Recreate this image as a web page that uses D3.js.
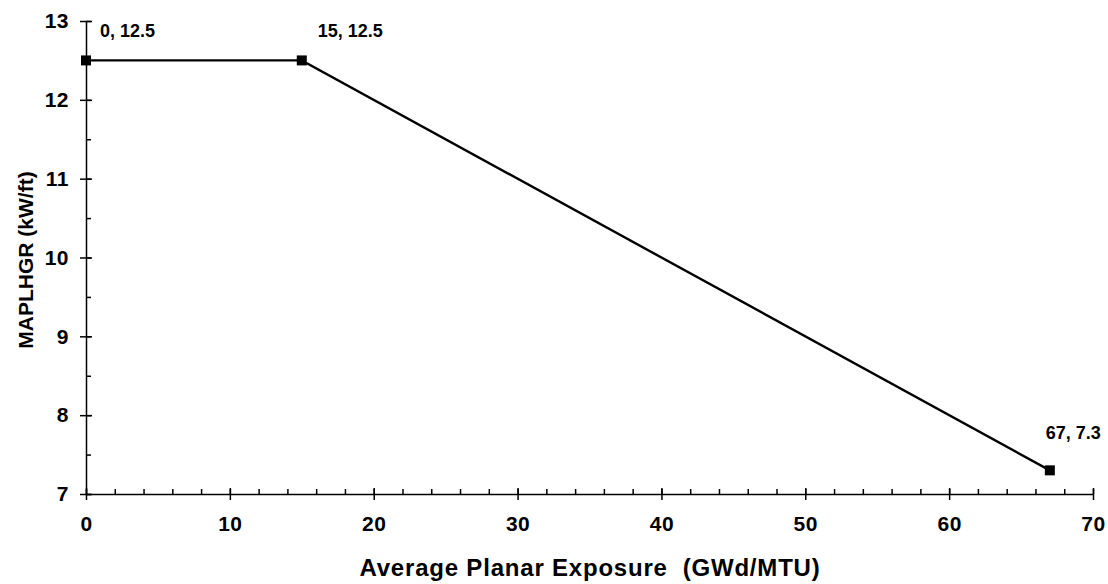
<!DOCTYPE html>
<html>
<head>
<meta charset="utf-8">
<script src="https://cdn.jsdelivr.net/npm/d3@7"></script>
<style>
  body { margin: 0; background: #fff; }
  text { font-family: "Liberation Sans", Arial, sans-serif; font-weight: bold; fill: #000; }
  .axis path, .axis line { stroke: #000; stroke-width: 1.5; }
  .axis text { font-size: 21px; letter-spacing: 0.5px; }
</style>
</head>
<body>
<script>
"use strict";

var width = 1108,
    height = 584;

// data
const exposure = [0, 15, 67];
const maplhgr = [12.5, 12.5, 7.3];
const pointLabels = ["0, 12.5", "15, 12.5", "67, 7.3"];
const xTicks = [0, 10, 20, 30, 40, 50, 60, 70];
const yTicks = [7, 8, 9, 10, 11, 12, 13];
const xMinor = d3.range(0, 70.01, 2);
const yMinor = d3.range(7, 13.01, 0.5);

const plotLeft = 86, plotRight = 1093, plotTop = 21, plotBottom = 494;

let svg = d3.select("body")
    .append("svg")
    .attr("width", width)
    .attr("height", height);

let x = d3.scaleLinear().domain([0, 70]).range([plotLeft, plotRight]);
let y = d3.scaleLinear().domain([7, 13]).range([plotBottom, plotTop]);

// minor ticks, inside the plot
svg.append("g").attr("class", "axis")
    .attr("transform", "translate(0," + plotBottom + ")")
    .call(d3.axisBottom(x).tickValues(xMinor).tickSize(-5).tickFormat(""))
    .select(".domain").remove();
svg.append("g").attr("class", "axis")
    .attr("transform", "translate(" + plotLeft + ",0)")
    .call(d3.axisLeft(y).tickValues(yMinor).tickSize(-5).tickFormat(""))
    .select(".domain").remove();

// major ticks cross the axis line
svg.append("g").attr("class", "axis")
    .attr("transform", "translate(0," + plotBottom + ")")
    .call(d3.axisBottom(x).tickValues(xTicks).tickSize(-6).tickFormat(""))
    .select(".domain").remove();
svg.append("g").attr("class", "axis")
    .attr("transform", "translate(" + plotLeft + ",0)")
    .call(d3.axisLeft(y).tickValues(yTicks).tickSize(-6).tickFormat(""))
    .select(".domain").remove();

svg.append("g").attr("class", "axis")
    .attr("transform", "translate(0," + plotBottom + ")")
    .call(d3.axisBottom(x).tickValues(xTicks).tickFormat(d3.format("d"))
        .tickSize(6).tickSizeOuter(0).tickPadding(16));

svg.append("g").attr("class", "axis")
    .attr("transform", "translate(" + plotLeft + ",0)")
    .call(d3.axisLeft(y).tickValues(yTicks).tickFormat(d3.format("d"))
        .tickSize(6).tickSizeOuter(0).tickPadding(11));

// line and markers
let pts = exposure.map((d, i) => [d, maplhgr[i]]);
svg.append("path")
    .datum(pts)
    .attr("fill", "none")
    .attr("stroke", "#000")
    .attr("stroke-width", 2.4)
    .attr("d", d3.line().x(d => x(d[0])).y(d => y(d[1])));

svg.selectAll(".mark")
    .data(pts)
    .enter()
    .append("rect")
    .attr("x", d => x(d[0]) - 5)
    .attr("y", d => y(d[1]) - 5)
    .attr("width", 10)
    .attr("height", 10)
    .attr("fill", "#000");

const labelShift = [[14, -23], [16, -23], [-4, -31]];
svg.selectAll(".lbl")
    .data(pts)
    .enter()
    .append("text")
    .attr("x", (d, i) => x(d[0]) + labelShift[i][0])
    .attr("y", (d, i) => y(d[1]) + labelShift[i][1])
    .style("font-size", "18px")
    .text((d, i) => pointLabels[i]);

// axis titles
svg.append("text")
    .attr("x", 590)
    .attr("y", 576)
    .attr("text-anchor", "middle")
    .style("font-size", "24px")
    .style("letter-spacing", "0.8px")
    .style("white-space", "pre")
    .text("Average Planar Exposure  (GWd/MTU)");

svg.append("text")
    .attr("transform", "translate(33,260) rotate(-90)")
    .attr("text-anchor", "middle")
    .style("font-size", "21px")
    .text("MAPLHGR (kW/ft)");
</script>
</body>
</html>
